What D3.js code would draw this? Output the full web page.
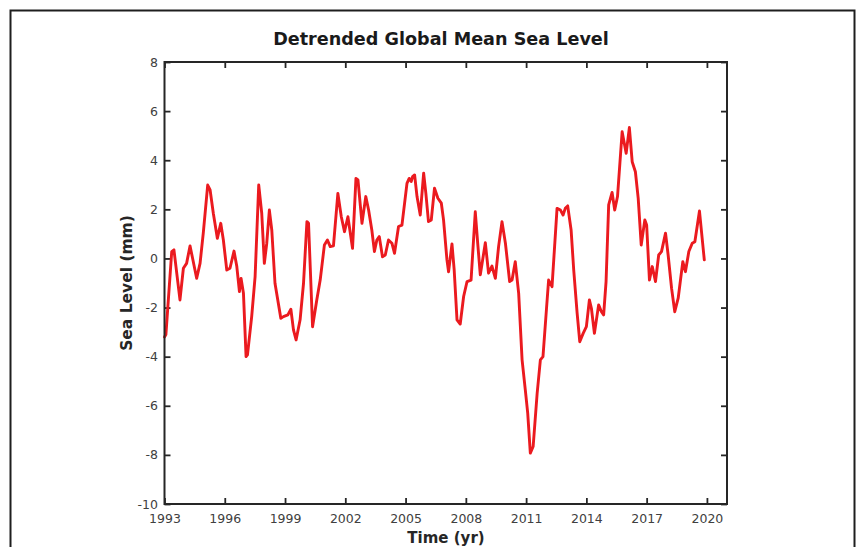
<!DOCTYPE html>
<html>
<head>
<meta charset="utf-8">
<script src="https://cdn.jsdelivr.net/npm/d3@7"></script>
<style>
  html, body { margin: 0; padding: 0; background: #fff; }
  svg { display: block; }
  text { font-family: "DejaVu Sans", sans-serif; }
</style>
</head>
<body>
<svg id="chart" width="860" height="547"></svg>
<script>
const titleText = "Detrended Global Mean Sea Level";
const xLabel = "Time (yr)";
const yLabel = "Sea Level (mm)";
const xTicks = [1993, 1996, 1999, 2002, 2005, 2008, 2011, 2014, 2017, 2020];
const yTicks = [-10, -8, -6, -4, -2, 0, 2, 4, 6, 8];

const years = [
  1993.0, 1993.07, 1993.36, 1993.47, 1993.77, 1993.94, 1994.1, 1994.27, 1994.4, 1994.6,
  1994.77, 1994.93, 1995.15, 1995.27, 1995.43, 1995.63, 1995.8, 1995.93, 1996.1, 1996.26,
  1996.46, 1996.6, 1996.73, 1996.81, 1996.93, 1997.06, 1997.13, 1997.34, 1997.51, 1997.69,
  1997.84, 1997.97, 1998.09, 1998.22, 1998.34, 1998.5, 1998.79, 1998.92, 1999.14, 1999.29,
  1999.42, 1999.55, 1999.75, 1999.92, 2000.09, 2000.17, 2000.37, 2000.58, 2000.75, 2000.96,
  2001.11, 2001.25, 2001.41, 2001.63, 2001.8, 2001.96, 2002.13, 2002.36, 2002.53, 2002.63,
  2002.83, 2003.02, 2003.16, 2003.32, 2003.45, 2003.57, 2003.69, 2003.85, 2003.99, 2004.15,
  2004.32, 2004.45, 2004.65, 2004.82, 2005.07, 2005.18, 2005.28, 2005.35, 2005.45, 2005.57,
  2005.73, 2005.9, 2006.01, 2006.14, 2006.28, 2006.44, 2006.61, 2006.78, 2006.89, 2007.06,
  2007.14, 2007.31, 2007.42, 2007.56, 2007.72, 2007.89, 2008.06, 2008.26, 2008.47, 2008.59,
  2008.72, 2008.97, 2009.13, 2009.3, 2009.47, 2009.63, 2009.8, 2009.97, 2010.18, 2010.3,
  2010.46, 2010.63, 2010.8, 2010.96, 2011.08, 2011.21, 2011.35, 2011.55, 2011.71, 2011.84,
  2012.01, 2012.12, 2012.29, 2012.54, 2012.71, 2012.84, 2012.95, 2013.07, 2013.24, 2013.37,
  2013.54, 2013.67, 2013.84, 2014.0, 2014.15, 2014.25, 2014.4, 2014.61, 2014.75, 2014.86,
  2014.98, 2015.11, 2015.28, 2015.41, 2015.55, 2015.78, 2015.98, 2016.14, 2016.28, 2016.44,
  2016.58, 2016.73, 2016.91, 2017.0, 2017.14, 2017.28, 2017.44, 2017.6, 2017.74, 2017.94,
  2018.07, 2018.24, 2018.4, 2018.57, 2018.8, 2018.93, 2019.1, 2019.27, 2019.4, 2019.63,
  2019.87
];
const seaLevel = [
  -3.2, -3.1, 0.28, 0.35, -1.69, -0.4, -0.2, 0.51, 0.0, -0.81,
  -0.2, 1.03, 2.99, 2.79, 1.84, 0.82, 1.43, 0.75, -0.47, -0.4,
  0.3, -0.33, -1.35, -0.81, -1.42, -4.0, -3.93, -2.37, -0.74, 2.99,
  1.84, -0.2, 0.62, 1.97, 1.16, -1.01, -2.44, -2.37, -2.3, -2.07,
  -2.91, -3.32, -2.5, -1.01, 1.5, 1.43, -2.78, -1.69, -0.88, 0.55,
  0.75, 0.48, 0.51, 2.65, 1.7, 1.09, 1.7, 0.41, 3.26, 3.2,
  1.43, 2.52, 1.97, 1.16, 0.28, 0.75, 0.89, 0.07, 0.14, 0.75,
  0.62, 0.21, 1.3, 1.36, 3.06, 3.26, 3.13, 3.33, 3.4, 2.52,
  1.77, 3.47, 2.65, 1.5, 1.57, 2.86, 2.45, 2.25, 1.57, -0.06,
  -0.54, 0.59, -0.47, -2.5, -2.67, -1.55, -0.94, -0.88, 1.9, 0.62,
  -0.67, 0.64, -0.6, -0.31, -0.81, 0.48, 1.5, 0.62, -0.94, -0.88,
  -0.13, -1.42, -4.13, -5.35, -6.3, -7.93, -7.66, -5.49, -4.13, -4.0,
  -2.1, -0.88, -1.15, 2.04, 1.97, 1.77, 2.04, 2.14, 1.16, -0.47,
  -2.23, -3.39, -3.05, -2.78, -1.69, -2.03, -3.05, -1.89, -2.17, -2.3,
  -0.94, 2.18, 2.69, 1.97, 2.52, 5.16, 4.28, 5.33, 3.94, 3.53,
  2.45, 0.55, 1.57, 1.36, -0.88, -0.33, -0.94, 0.14, 0.28, 1.03,
  0.14, -1.21, -2.17, -1.62, -0.13, -0.54, 0.28, 0.62, 0.68, 1.93,
  -0.06
];

const svg = d3.select("#chart");
const plot = { left: 164.5, right: 727, top: 62, bottom: 504 };

// outer figure frame
svg.append("rect")
  .attr("x", 10.5).attr("y", 10.5)
  .attr("width", 844).attr("height", 570)
  .attr("fill", "#fff")
  .attr("stroke", "#1e1e1e")
  .attr("stroke-width", 2);

const x = d3.scaleLinear().domain([1993, 2021]).range([plot.left, plot.right]);
const y = d3.scaleLinear().domain([-10, 8]).range([plot.bottom, plot.top]);

const axisColor = "#262626";
const labelColor = "#404040";

function styleAxis(g, showLabels) {
  g.select(".domain").remove();
  g.selectAll(".tick line").attr("stroke", axisColor).attr("stroke-width", 1.8);
  g.selectAll(".tick text")
    .attr("fill", labelColor)
    .style("font-size", "12.5px")
    .style("font-family", "'DejaVu Sans', sans-serif")
    .attr("display", showLabels ? null : "none");
}

svg.append("g")
  .attr("transform", `translate(0,${plot.bottom})`)
  .call(d3.axisBottom(x).tickValues(xTicks).tickFormat(d3.format("d")).tickSizeInner(-6).tickSizeOuter(0).tickPadding(10))
  .call(g => styleAxis(g, true));

svg.append("g")
  .attr("transform", `translate(0,${plot.top})`)
  .call(d3.axisTop(x).tickValues(xTicks).tickSizeInner(-6).tickSizeOuter(0))
  .call(g => styleAxis(g, false));

svg.append("g")
  .attr("transform", `translate(${plot.left},0)`)
  .call(d3.axisLeft(y).tickValues(yTicks).tickFormat(d3.format("d")).tickSizeInner(-6).tickSizeOuter(0).tickPadding(6.5))
  .call(g => styleAxis(g, true));

svg.append("g")
  .attr("transform", `translate(${plot.right},0)`)
  .call(d3.axisRight(y).tickValues(yTicks).tickSizeInner(-6).tickSizeOuter(0))
  .call(g => styleAxis(g, false));

svg.selectAll(".tick text").text(function() { return d3.select(this).text().replace("\u2212", "-"); });

// data line
const data = years.map((t, i) => ({ t, v: seaLevel[i] }));
const line = d3.line().x(d => x(d.t)).y(d => y(d.v));
svg.append("path")
  .datum(data)
  .attr("d", line)
  .attr("fill", "none")
  .attr("stroke", "#eb1a1f")
  .attr("stroke-width", 2.9)
  .attr("stroke-linejoin", "round")
  .attr("stroke-linecap", "round");

// plot box
svg.append("rect")
  .attr("x", plot.left).attr("y", plot.top)
  .attr("width", plot.right - plot.left).attr("height", plot.bottom - plot.top)
  .attr("fill", "none")
  .attr("stroke", axisColor)
  .attr("stroke-width", 2);

// title
svg.append("text")
  .attr("x", 441).attr("y", 45)
  .attr("text-anchor", "middle")
  .attr("fill", "#1a1a1a")
  .style("font-size", "17.6px")
  .style("font-weight", "bold")
  .text(titleText);

svg.append("text")
  .attr("x", 446).attr("y", 543)
  .attr("text-anchor", "middle")
  .attr("fill", "#262626")
  .style("font-size", "15px")
  .style("font-weight", "bold")
  .text(xLabel);

svg.append("text")
  .attr("transform", `translate(132,283) rotate(-90)`)
  .attr("text-anchor", "middle")
  .attr("fill", "#262626")
  .style("font-size", "15.5px")
  .style("font-weight", "bold")
  .text(yLabel);
</script>
</body>
</html>
